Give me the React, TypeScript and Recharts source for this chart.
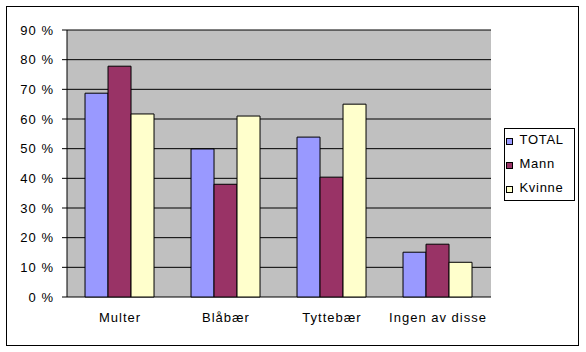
import React from "react";
import { BarChart, Bar, XAxis, YAxis, CartesianGrid, Legend } from "recharts";

const categories = ["Multer", "Blåbær", "Tyttebær", "Ingen av disse"];
const totalValues = [68.7, 49.9, 53.9, 15.1];
const mannValues = [77.8, 38.0, 40.4, 17.8];
const kvinneValues = [61.7, 61.0, 65.0, 11.7];
const yTicks = [0, 10, 20, 30, 40, 50, 60, 70, 80, 90];
const boundaryTicks = [0, 1, 2, 3, 4];

const seriesNames = ["TOTAL", "Mann", "Kvinne"];
const seriesColors = ["#9999FF", "#993366", "#FFFFCC"];

const data = categories.map((c, i) => ({
  name: c,
  TOTAL: totalValues[i],
  Mann: mannValues[i],
  Kvinne: kvinneValues[i],
}));

const FONT = "'Liberation Sans', Arial, sans-serif";

const LegendBox = () => (
  <div
    style={{
      position: "relative",
      width: 71,
      height: 73,
      border: "1px solid #000",
      boxSizing: "border-box",
      background: "#fff",
      fontFamily: FONT,
      fontSize: 13,
      letterSpacing: 0.7,
      color: "#000",
    }}
  >
    {seriesNames.map((n, i) => (
      <div
        key={n}
        style={{ position: "absolute", left: 0, top: 3 + 24 * i, height: 15, lineHeight: "15px", width: 69 }}
      >
        <div
          style={{
            position: "absolute",
            left: 1,
            top: 6,
            width: 7,
            height: 7,
            boxSizing: "border-box",
            border: "1px solid #000",
            background: seriesColors[i],
          }}
        />
        <span style={{ position: "absolute", left: 14.5, top: 0, whiteSpace: "nowrap" }}>{n}</span>
      </div>
    ))}
  </div>
);

export default function App() {
  return (
    <div style={{ position: "absolute", left: 0, top: 0, width: 586, height: 352, background: "#fff" }}>
      <div
        style={{
          position: "absolute",
          left: 6,
          top: 6,
          width: 573,
          height: 340,
          border: "1px solid #000",
          boxSizing: "border-box",
        }}
      />
      <BarChart
        width={586}
        height={352}
        data={data}
        margin={{ top: 30, right: 95, bottom: 25, left: 7 }}
        barGap={0}
        barCategoryGap="17%"
        style={{ position: "absolute", left: 0, top: 0 }}
      >
        <CartesianGrid
          xAxisId="cat"
          vertical={false}
          stroke="#000"
          strokeOpacity={1}
          fill="#C0C0C0"
          fillOpacity={1}
        />
        <XAxis
          xAxisId="grid"
          type="number"
          domain={[0, 4]}
          ticks={boundaryTicks}
          allowDataOverflow
          height={0}
          tick={false}
          tickSize={5}
          stroke="#000"
          axisLine={{ stroke: "#000" }}
          tickLine={{ stroke: "#000" }}
        />
        <XAxis
          xAxisId="cat"
          dataKey="name"
          height={30}
          axisLine={false}
          tickLine={false}
          tickSize={0}
          tickMargin={16}
          interval={0}
          tick={{ fill: "#000", fontSize: 13, fontFamily: FONT, letterSpacing: 1 }}
        />
        <YAxis
          domain={[0, 90]}
          ticks={yTicks}
          width={60}
          tickFormatter={(v) => `${v} %`}
          tickSize={5}
          tickMargin={8}
          axisLine={{ stroke: "#000" }}
          tickLine={{ stroke: "#000" }}
          tick={{ fill: "#000", fontSize: 13, fontFamily: FONT, letterSpacing: 1 }}
        />
        <YAxis
          yAxisId="r"
          orientation="right"
          domain={[0, 90]}
          width={0}
          tick={false}
          tickLine={false}
          axisLine={{ stroke: "#808080" }}
        />
        <Legend
          layout="horizontal"
          verticalAlign="middle"
          align="center"
          content={() => <LegendBox />}
          wrapperStyle={{ left: 504, top: 128, width: 71, height: 73 }}
        />
        {seriesNames.map((n, i) => (
          <Bar
            key={n}
            xAxisId="cat"
            dataKey={n}
            fill={seriesColors[i]}
            stroke="#000"
            strokeWidth={1}
            isAnimationActive={false}
          />
        ))}
      </BarChart>
    </div>
  );
}
